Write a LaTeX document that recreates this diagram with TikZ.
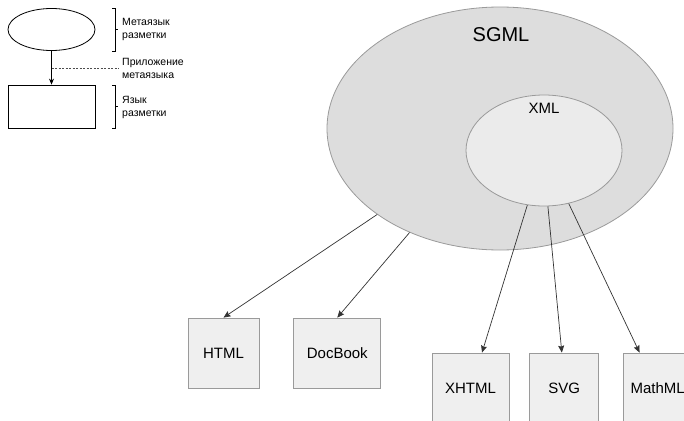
\documentclass[tikz,border=0pt]{standalone}
\usepackage{fontspec}
\setmainfont{Liberation Sans}
\usetikzlibrary{arrows.meta}
\usetikzlibrary{positioning}
\usetikzlibrary{shapes.geometric}
\definecolor{sgmlfill}{HTML}{DDDDDD}
\definecolor{xmlfill}{HTML}{EBEBEB}
\definecolor{boxfill}{HTML}{EFEFEF}
\definecolor{edge}{HTML}{9A9A9A}
\definecolor{wire}{HTML}{333333}
\tikzset {
  % markup family (big ovals)
  family/.style = {
    ellipse,
    draw = edge,
    line width = 0.8pt,
    inner sep = 0
  },
  % markup language box
  lang/.style = {
    rectangle,
    draw = edge,
    fill = boxfill,
    line width = 0.8pt,
    minimum height = 70pt,
    inner sep = 0,
    font = \fontsize{15}{18}\selectfont
  },
  % connector with a small filled head
  link/.style = {
    draw = wire,
    line width = 0.7pt,
    -{Stealth[length=7pt,width=6pt,inset=1pt]}
  },
  % legend shapes and captions
  legend/.style = {
    draw = black,
    line width = 0.8pt,
    fill = white,
    inner sep = 0,
    minimum width = 87pt
  },
  note/.style = {
    anchor = west,
    align = left,
    inner sep = 0,
    font = \fontsize{10.5}{12.5}\selectfont
  },
  bracket/.style = {
    draw = black,
    line width = 0.7pt
  }
}

\begin{document}
\begin{tikzpicture}[x=1pt, y=-1pt]
  \useasboundingbox (0,0) rectangle (684,420);
  \clip (0,0) rectangle (684,420);

  % legend
  \node[legend, ellipse, minimum height=42pt] (leg-meta) at (51.5,29.5) {};
  \node[legend, rectangle, minimum height=43pt] (leg-lang) at (51.5,106.5) {};
  \draw[black, line width=0.7pt, -{Stealth[length=6pt,width=5pt]}] (leg-meta) -- (leg-lang);
  \coordinate (leg-app) at (51.5,68);
  \coordinate (leg-app-end) at (119,68);
  \draw[black!70, line width=0.8pt, dash pattern=on 2pt off 1.5pt] (leg-app) -- (leg-app-end);

  \draw[bracket] (112,8) -- (115,8) -- (115,51) -- (112,51);
  \draw[bracket] (115,29.5) -- (118,29.5);
  \draw[bracket] (112,85) -- (115,85) -- (115,128) -- (112,128);
  \draw[bracket] (115,106.5) -- (118,106.5);

  \node[note] (meta-note) at (122,29.5) {Метаязык\\разметки};
  \node[note] (app-note) at (122,68.5) {Приложение\\метаязыка};
  \node[note] (lang-note) at (122,107.5) {Язык\\разметки};

  % SGML and its XML subset
  \node[family, fill=sgmlfill, minimum width=346pt, minimum height=243pt] (sgml) at (500,128.5) {};
  \node[font=\fontsize{20}{24}\selectfont] (sgml-name) at (501,35) {SGML};
  \node[family, fill=xmlfill, minimum width=156pt, minimum height=111pt] (xml) at (544,150.5) {};
  \node[font=\fontsize{15}{18}\selectfont] (xml-name) at (544,108) {XML};

  % languages
  \node[lang, minimum width=71pt] (html) at (223.5,353) {HTML};
  \node[lang, minimum width=87pt] (docbook) [right=34pt of html] {DocBook};
  \node[lang, minimum width=77pt] (xhtml) at (470.5,388) {XHTML};
  \node[lang, minimum width=69pt] (svg) [right=20pt of xhtml] {SVG};
  \node[lang, minimum width=68pt] (mathml) [right=24pt of svg] {MathML};

  \draw[link] (sgml.215) -- (html.north);
  \draw[link] (sgml.229) -- (docbook.north);
  \draw[link] (xml.253) -- (xhtml.72);
  \draw[link] (xml.274) -- (svg.94);
  \draw[link] (xml.295) -- (mathml.117);
\end{tikzpicture}
\end{document}
